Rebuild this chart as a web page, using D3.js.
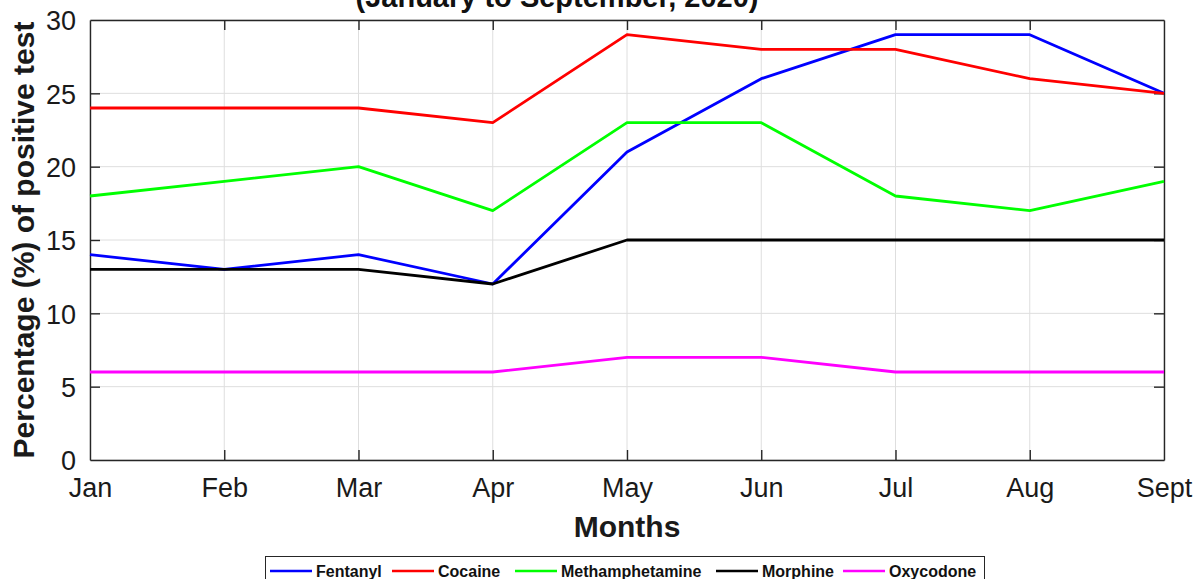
<!DOCTYPE html>
<html>
<head>
<meta charset="utf-8">
<script src="https://cdn.jsdelivr.net/npm/d3@7"></script>
<style>
  body { margin: 0; background: #fff; }
  svg { display: block; font-family: Arial, "Liberation Sans", Helvetica, sans-serif; }
</style>
</head>
<body>
<div id="chart"></div>
<script>
// data
const months = ["Jan", "Feb", "Mar", "Apr", "May", "Jun", "Jul", "Aug", "Sept"];
const fentanyl = [14, 13, 14, 12, 21, 26, 29, 29, 25];
const cocaine = [24, 24, 24, 23, 29, 28, 28, 26, 25];
const methamphetamine = [18, 19, 20, 17, 23, 23, 18, 17, 19];
const morphine = [13, 13, 13, 12, 15, 15, 15, 15, 15];
const oxycodone = [6, 6, 6, 6, 7, 7, 6, 6, 6];
const yTicks = [0, 5, 10, 15, 20, 25, 30];

const series = [
  { name: "Fentanyl", values: fentanyl, color: "#0000ff" },
  { name: "Cocaine", values: cocaine, color: "#ff0000" },
  { name: "Methamphetamine", values: methamphetamine, color: "#00ff00" },
  { name: "Morphine", values: morphine, color: "#000000" },
  { name: "Oxycodone", values: oxycodone, color: "#ff00ff" },
];

const width = 1199, height = 579;
const margin = { top: 20, right: 35, bottom: 119, left: 90 };
const innerW = width - margin.left - margin.right;
const innerH = height - margin.top - margin.bottom;

const svg = d3.select("#chart").append("svg")
  .attr("width", width)
  .attr("height", height);

const x = d3.scalePoint().domain(months).range([0, innerW]);
const y = d3.scaleLinear().domain([0, 30]).range([innerH, 0]);

const g = svg.append("g")
  .attr("transform", `translate(${margin.left},${margin.top})`);

// grid
g.append("g")
  .selectAll("line.gx")
  .data(months)
  .enter().append("line")
  .attr("x1", d => x(d)).attr("x2", d => x(d))
  .attr("y1", 0).attr("y2", innerH)
  .attr("stroke", "#dedede").attr("stroke-width", 1);

g.append("g")
  .selectAll("line.gy")
  .data(yTicks)
  .enter().append("line")
  .attr("x1", 0).attr("x2", innerW)
  .attr("y1", d => y(d)).attr("y2", d => y(d))
  .attr("stroke", "#dedede").attr("stroke-width", 1);

// axes (ticks inside, box style)
const axisColor = "#262626";
const tickLen = 10;

const xAxis = g.append("g")
  .attr("transform", `translate(0,${innerH})`)
  .call(d3.axisBottom(x).tickSizeInner(-tickLen).tickSizeOuter(0).tickPadding(18));
const xTop = g.append("g")
  .call(d3.axisTop(x).tickSizeInner(-tickLen).tickSizeOuter(0).tickFormat(""));
const yAxis = g.append("g")
  .call(d3.axisLeft(y).tickValues(yTicks).tickSizeInner(-tickLen).tickSizeOuter(0).tickPadding(14));
const yRight = g.append("g")
  .attr("transform", `translate(${innerW},0)`)
  .call(d3.axisRight(y).tickValues(yTicks).tickSizeInner(-tickLen).tickSizeOuter(0).tickFormat(""));

[xAxis, xTop, yAxis, yRight].forEach(a => {
  a.select(".domain").attr("stroke", axisColor).attr("stroke-width", 1.4);
  a.selectAll(".tick line").attr("stroke", axisColor).attr("stroke-width", 1.4);
  a.selectAll(".tick text")
    .attr("fill", "#1a1a1a")
    .style("font-family", "Arial, 'Liberation Sans', sans-serif")
    .style("font-size", "27px");
});
// no tick marks on the box corners
xAxis.selectAll(".tick line").filter((d, i) => i === 0 || i === months.length - 1).remove();
xTop.selectAll(".tick line").filter((d, i) => i === 0 || i === months.length - 1).remove();
yAxis.selectAll(".tick line").filter(d => d === 0 || d === 30).remove();
yRight.selectAll(".tick line").filter(d => d === 0 || d === 30).remove();
yAxis.selectAll(".tick text").attr("dy", "0.36em");

// lines
const line = d3.line()
  .x((d, i) => x(months[i]))
  .y(d => y(d));

g.selectAll("path.series")
  .data(series)
  .enter().append("path")
  .attr("class", "series")
  .attr("d", d => line(d.values))
  .attr("fill", "none")
  .attr("stroke", d => d.color)
  .attr("stroke-width", 2.8)
  .attr("stroke-linejoin", "round");

// title (cut off at the top of the image, as in the figure)
svg.append("text")
  .attr("x", 557)
  .attr("y", 7)
  .attr("text-anchor", "middle")
  .style("font-size", "29px")
  .style("font-weight", "bold")
  .attr("fill", "#111")
  .text("(January to September, 2020)");

// axis labels
svg.append("text")
  .attr("x", margin.left + innerW / 2)
  .attr("y", 537)
  .attr("text-anchor", "middle")
  .style("font-size", "30px")
  .style("font-weight", "bold")
  .attr("fill", "#1a1a1a")
  .text("Months");

svg.append("text")
  .attr("transform", `translate(34,${margin.top + innerH / 2}) rotate(-90)`)
  .attr("text-anchor", "middle")
  .style("font-size", "30px")
  .style("font-weight", "bold")
  .attr("fill", "#1a1a1a")
  .text("Percentage (%) of positive test");

// legend
const legend = svg.append("g");
legend.append("rect")
  .attr("x", 265.5).attr("y", 556.5)
  .attr("width", 719).attr("height", 40)
  .attr("fill", "#fff")
  .attr("stroke", "#262626").attr("stroke-width", 1);

const legendX = [270, 392, 515, 716, 843];
const items = legend.selectAll("g.item")
  .data(series)
  .enter().append("g")
  .attr("class", "item")
  .attr("transform", (d, i) => `translate(${legendX[i]},571)`);

items.append("line")
  .attr("x1", 0).attr("x2", 42)
  .attr("stroke", d => d.color)
  .attr("stroke-width", 2.4);

items.append("text")
  .attr("x", 46)
  .attr("y", 6)
  .style("font-size", "16px")
  .style("font-weight", "bold")
  .attr("fill", "#111")
  .text(d => d.name);
</script>
</body>
</html>
